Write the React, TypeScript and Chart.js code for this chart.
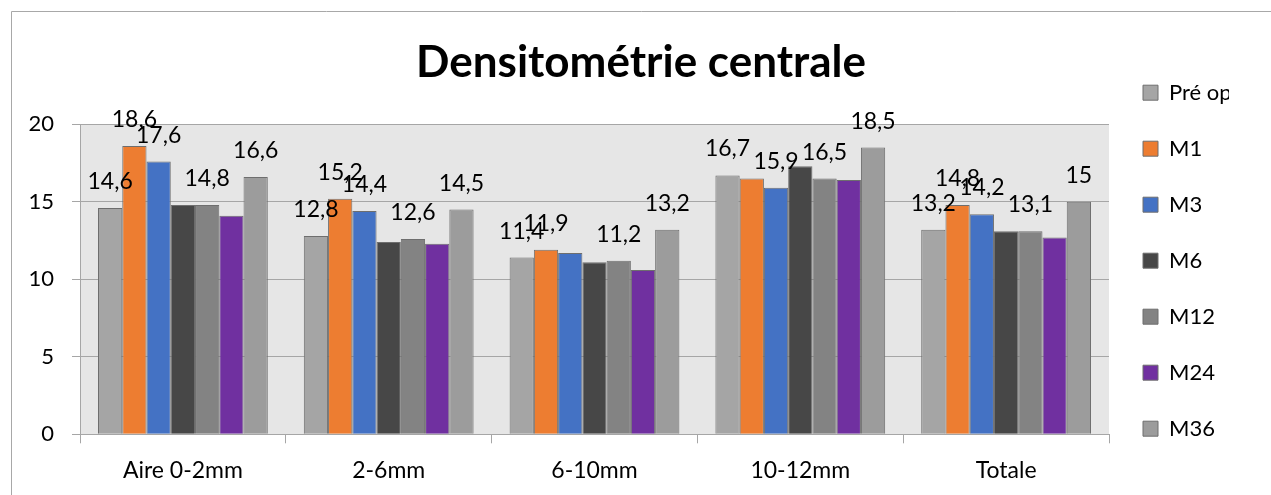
import React, { useEffect, useRef } from 'react';
import { Chart, registerables } from 'chart.js';

Chart.register(...registerables);

const categories = ['Aire 0-2mm', '2-6mm', '6-10mm', '10-12mm', 'Totale'];
const seriesNames = ['Pré op', 'M1', 'M3', 'M6', 'M12', 'M24', 'M36'];
const preOp = [14.6, 12.8, 11.4, 16.7, 13.2];
const m1 = [18.6, 15.2, 11.9, 16.5, 14.8];
const m3 = [17.6, 14.4, 11.7, 15.9, 14.2];
const m6 = [14.8, 12.4, 11.1, 17.3, 13.1];
const m12 = [14.8, 12.6, 11.2, 16.5, 13.1];
const m24 = [14.1, 12.3, 10.6, 16.4, 12.7];
const m36 = [16.6, 14.5, 13.2, 18.5, 15.0];
const yTicks = [0, 5, 10, 15, 20];
const titleText = 'Densitométrie centrale';
// series that carry value labels in the original, and the labels it does not show
const labelledSeries = ['Pré op', 'M1', 'M3', 'M12', 'M36'];
const hiddenLabels = [['6-10mm', 'M3'], ['10-12mm', 'M1']];
const colors = ['#a5a5a5', '#ed7d31', '#4472c4', '#474747', '#838383', '#7030a0', '#9c9c9c'];

const FONT = 'Lato';

const backgroundPlugin = {
  id: 'bgFrame',
  beforeDraw(chart: any) {
    const { ctx, chartArea, width, height } = chart;
    ctx.save();
    ctx.fillStyle = '#ffffff';
    ctx.fillRect(0, 0, width, height);
    ctx.fillStyle = '#e6e6e6';
    ctx.fillRect(chartArea.left, chartArea.top, chartArea.right - chartArea.left, chartArea.bottom - chartArea.top);
    ctx.strokeStyle = '#a8a8a8';
    ctx.lineWidth = 1;
    ctx.beginPath();
    ctx.moveTo(11.5, height);
    ctx.lineTo(11.5, 11.5);
    ctx.lineTo(width, 11.5);
    ctx.stroke();
    ctx.restore();
  },
};

const valueLabelPlugin = {
  id: 'valueLabels',
  afterDatasetsDraw(chart: any) {
    const { ctx } = chart;
    ctx.save();
    ctx.font = `23px ${FONT}`;
    ctx.fillStyle = '#000000';
    ctx.textAlign = 'center';
    ctx.textBaseline = 'alphabetic';
    chart.data.datasets.forEach((ds: any, di: number) => {
      if (!labelledSeries.includes(ds.label)) return;
      const meta = chart.getDatasetMeta(di);
      meta.data.forEach((el: any, i: number) => {
        const cat = categories[i];
        if (hiddenLabels.some(([c, s]) => c === cat && s === ds.label)) return;
        const v = ds.data[i];
        const txt = String(v).replace('.', ',');
        ctx.fillText(txt, el.x, el.y - 19);
      });
    });
    ctx.restore();
  },
};

export default function App() {
  const ref = useRef<HTMLCanvasElement>(null);
  useEffect(() => {
    const series = [preOp, m1, m3, m6, m12, m24, m36];
    const chart = new Chart(ref.current as HTMLCanvasElement, {
      type: 'bar',
      data: {
        labels: categories,
        datasets: seriesNames.map((name, i) => ({
          label: name,
          data: series[i],
          backgroundColor: colors[i],
          borderColor: '#6e6e6e',
          borderWidth: 1,
          barPercentage: 1,
          categoryPercentage: 0.825,
        })),
      },
      options: {
        responsive: false,
        animation: false,
        layout: { padding: { left: 20, right: 9, top: 0, bottom: 0 } },
        plugins: {
          title: {
            display: true,
            text: titleText,
            color: '#000000',
            font: { family: FONT, size: 44, weight: 'bold', lineHeight: 1.2 },
            padding: { top: 36.6, bottom: 34.9 },
          },
          legend: {
            position: 'right',
            align: 'center',
            maxWidth: 120,
            title: { display: true, text: ' ', font: { size: 10, lineHeight: 1.2 }, padding: { top: 7, bottom: 7.4 } },
            labels: {
              font: { family: FONT, size: 22 },
              color: '#000000',
              boxWidth: 15,
              boxHeight: 15,
              padding: 34,
            },
          },
          tooltip: { enabled: false },
        },
        scales: {
          x: {
            grid: { drawOnChartArea: false, drawTicks: true, tickLength: 9, color: '#a6a6a6', offset: true },
            border: { display: true, color: '#a6a6a6' },
            ticks: { font: { family: FONT, size: 23 }, color: '#000000', padding: 13, maxRotation: 0, autoSkip: false },
            afterFit: (scale: any) => { scale.height = 60.7; },
          },
          y: {
            min: yTicks[0],
            max: yTicks[yTicks.length - 1],
            ticks: { stepSize: yTicks[1] - yTicks[0], font: { family: FONT, size: 22 }, color: '#000000', padding: 18 },
            grid: { color: '#a6a6a6', tickLength: 8, drawTicks: true },
            border: { display: true, color: '#a6a6a6' },
            afterFit: (scale: any) => { scale.width = 60; },
          },
          // empty outer spacer on the right, beyond the legend
          spacer: {
            type: 'linear',
            position: 'right',
            weight: 5000,
            display: true,
            ticks: { display: false },
            grid: { display: false, drawTicks: false },
            border: { display: false },
            afterFit: (scale: any) => { scale.width = 33; },
          },
        },
      },
      plugins: [backgroundPlugin, valueLabelPlugin],
    } as any);
    return () => chart.destroy();
  }, []);
  return (
    <div style={{ position: 'fixed', left: 0, top: 0, width: 1271, height: 495, background: '#fff' }}>
      <canvas ref={ref} width={1271} height={495} style={{ display: 'block' }} />
    </div>
  );
}
